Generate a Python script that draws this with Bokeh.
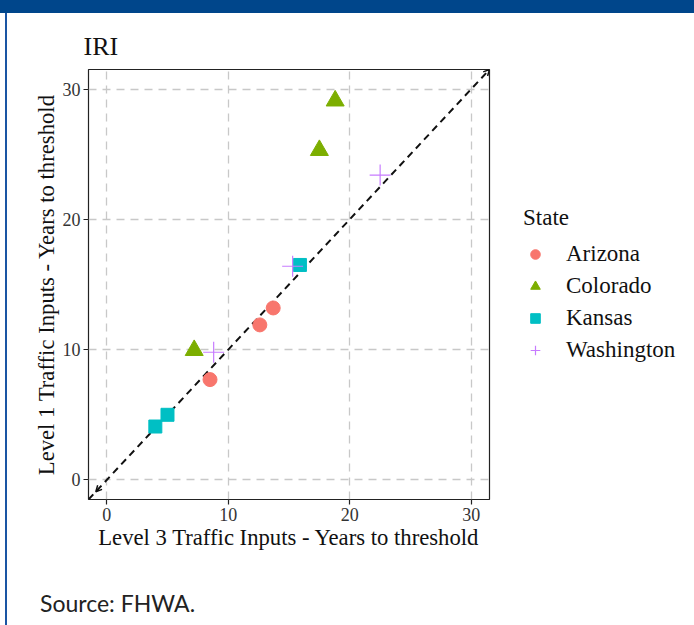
from bokeh.plotting import figure
from bokeh.models import (ColumnDataSource, Legend, LegendItem, FixedTicker, Div,
                          Arrow, OpenHead, Range1d)
from bokeh.layouts import column, row
from bokeh.embed import file_html
from bokeh.resources import INLINE

# ---- data ----
states = ["Arizona", "Colorado", "Kansas", "Washington"]
arizona_x = [8.5, 12.6, 13.7]
arizona_y = [7.7, 11.9, 13.2]
colorado_x = [7.2, 17.5, 18.8]
colorado_y = [9.95, 25.3, 29.1]
kansas_x = [4.0, 5.0, 15.9]
kansas_y = [4.1, 5.0, 16.5]
washington_x = [8.8, 15.3, 22.5]
washington_y = [9.8, 16.4, 23.4]
ticks = [0, 10, 20, 30]
axis_min, axis_max = -1.5, 31.5

colors = ["#F8766D", "#7CAE00", "#00BFC4", "#C77CFF"]
SERIF = "Liberation Serif"

p = figure(frame_width=401, frame_height=430, output_backend="svg",
           toolbar_location=None,
           x_range=Range1d(axis_min, axis_max), y_range=Range1d(axis_min, axis_max),
           min_border_left=81, min_border_right=205, min_border_top=56,
           min_border_bottom=77, margin=0,
           background_fill_color="white", border_fill_color="white")

p.title.text = "IRI"
p.title.text_font = SERIF
p.title.text_font_size = "26px"
p.title.text_font_style = "normal"
p.title.text_color = "#111111"
p.title.offset = -5
p.title.standoff = 18

p.outline_line_color = "#222222"
p.outline_line_width = 1.2

for ax, lab in ((p.xaxis, "Level 3 Traffic Inputs - Years to threshold"),
                (p.yaxis, "Level 1 Traffic Inputs - Years to threshold")):
    ax.ticker = FixedTicker(ticks=ticks)
    ax.axis_label = lab
    ax.axis_label_text_font = SERIF
    ax.axis_label_text_font_size = "22.7px"
    ax.axis_label_text_font_style = "normal"
    ax.axis_label_text_color = "#111111"
    ax.major_label_text_font = SERIF
    ax.major_label_text_font_size = "18px"
    ax.major_label_text_color = "#333333"
    ax.axis_line_color = None
    ax.major_tick_line_color = "#222222"
    ax.major_tick_line_width = 1.2
    ax.major_tick_out = 5
    ax.major_tick_in = 0
    ax.minor_tick_line_color = None
    ax.major_label_standoff = 3
    ax.axis_label_standoff = 1

p.yaxis.major_label_orientation = 0

for g in (p.xgrid, p.ygrid):
    g.ticker = FixedTicker(ticks=ticks)
    g.grid_line_color = "#c8c8c8"
    g.grid_line_width = 1.3
    g.grid_line_dash = "8 6"

# diagonal reference line y = x
diag = [axis_min, axis_max]
p.line(diag, diag, line_color="#111111", line_width=2, line_dash="7 5")
p.add_layout(Arrow(end=OpenHead(size=6, line_width=1.5, line_color="#111111"),
                   start=OpenHead(size=6, line_width=1.5, line_color="#111111"),
                   x_start=axis_min + 0.6, y_start=axis_min + 0.6,
                   x_end=axis_max, y_end=axis_max,
                   line_color=None))

src = {
    "Arizona": ColumnDataSource(dict(x=arizona_x, y=arizona_y)),
    "Colorado": ColumnDataSource(dict(x=colorado_x, y=colorado_y)),
    "Kansas": ColumnDataSource(dict(x=kansas_x, y=kansas_y)),
    "Washington": ColumnDataSource(dict(x=washington_x, y=washington_y)),
}

r_az = p.scatter("x", "y", source=src["Arizona"], marker="circle", size=14,
                 fill_color=colors[0], line_color=colors[0])
r_co = p.scatter("x", "y", source=src["Colorado"], marker="triangle", size=18,
                 fill_color=colors[1], line_color=colors[1])
r_ks = p.scatter("x", "y", source=src["Kansas"], marker="square", size=13,
                 fill_color=colors[2], line_color=colors[2])
r_wa = p.scatter("x", "y", source=src["Washington"], marker="cross", size=21,
                 line_color=colors[3], line_width=1.2)

legend = Legend(items=[LegendItem(label=s, renderers=[r]) for s, r in
                       zip(states, [r_az, r_co, r_ks, r_wa])],
                location="center_left", orientation="vertical")
legend.title = "State"
legend.title_text_font = SERIF
legend.title_text_font_size = "23px"
legend.title_text_font_style = "normal"
legend.title_text_color = "#111111"
legend.title_standoff = 10
legend.label_text_font = SERIF
legend.label_text_font_size = "23px"
legend.label_text_color = "#111111"
legend.label_height = 24
legend.glyph_height = 24
legend.glyph_width = 24
legend.spacing = 6
legend.label_standoff = 19
legend.padding = 4
legend.margin = 34
legend.border_line_color = None
legend.background_fill_alpha = 0
p.add_layout(legend, "right")

header = Div(width=694, height=13, margin=0, styles={"background-color": "#00468b"})
border = Div(width=2, height=612, margin=(0, 0, 0, 5),
             styles={"background-color": "#1a55a3"})
source = Div(text="Source: FHWA.", width=600, height=36, margin=(11, 0, 0, 33),
             styles={"font-family": "Lato, 'Open Sans', sans-serif",
                     "font-size": "23px", "color": "#222222"})

layout = column(header, row(border, column(p, source, spacing=0), spacing=0),
                spacing=0)

open("out.html", "w").write(file_html(layout, INLINE))
